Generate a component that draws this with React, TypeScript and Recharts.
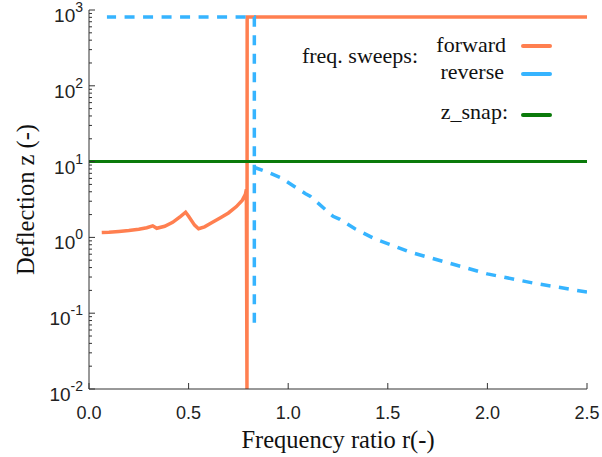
import React from "react";
import { LineChart, Line, XAxis, YAxis } from "recharts";

// forward frequency sweep (r, z)
const forwardR = [0.064, 0.1, 0.15, 0.2, 0.25, 0.29, 0.32, 0.34, 0.38, 0.42, 0.46, 0.485, 0.5, 0.53, 0.55, 0.58, 0.62, 0.66, 0.7, 0.74, 0.77, 0.785, 0.79, 0.793, 0.794, 2.5];
const forwardZ = [1.16, 1.17, 1.2, 1.23, 1.28, 1.34, 1.42, 1.32, 1.4, 1.58, 1.9, 2.15, 1.9, 1.45, 1.3, 1.38, 1.58, 1.82, 2.1, 2.55, 3.1, 3.7, 4.3, 0.01, 810, 810];

// reverse sweep, in sweep order (high r down to low r); null breaks the path at the jump
const reverseR = [2.5, 2.23, 2.0, 1.78, 1.61, 1.51, 1.445, 1.335, 1.26, 1.225, 1.11, 1.085, 1.0, 0.959, 0.9, 0.835, 0.832, 0.83, 0.83, 0.09];
const reverseZ = [0.19, 0.25, 0.33, 0.48, 0.64, 0.81, 0.93, 1.3, 1.73, 1.9, 3.5, 3.8, 5.3, 6.2, 7.2, 8.3, null, 0.075, 810, 810];

const snapR = [0, 2.5];
const snapZ = [10, 10];

const xTicks = [0, 0.5, 1.0, 1.5, 2.0, 2.5];
const yDecades = [0.01, 0.1, 1, 10, 100, 1000];

const toRows = (rs: number[], zs: (number | null)[]) => rs.map((r, i) => ({ r, z: zs[i] }));
const forward = toRows(forwardR, forwardZ);
const reverse = toRows(reverseR, reverseZ);
const snap = toRows(snapR, snapZ);

const yTicks: number[] = [];
yDecades.forEach((d, i) => {
  yTicks.push(d);
  if (i < yDecades.length - 1) {
    for (let k = 2; k <= 9; k++) yTicks.push(d * k);
  }
});

const AXIS = "#333";
const SANS = "'Liberation Sans', Arial, sans-serif";
const SERIF = "'Liberation Serif', 'Times New Roman', serif";

const isMajor = (v: number) => {
  const e = Math.log10(v);
  return Math.abs(e - Math.round(e)) < 1e-6;
};

const LeftTick = (props: any) => {
  const { x, y, payload } = props;
  const v = payload.value;
  const major = isMajor(v);
  return (
    <g>
      <line x1={x} x2={x + (major ? 6 : 3)} y1={y} y2={y} stroke={AXIS} strokeWidth={1} />
      {major && (
        <text x={x - 6} y={y + 12} textAnchor="end" fontFamily={SANS} fontSize={19} fill="#222">
          <tspan>10</tspan>
          <tspan dy={-10} fontSize={14}>{Math.round(Math.log10(v))}</tspan>
        </text>
      )}
    </g>
  );
};

const RightTick = (props: any) => {
  const { x, y, payload } = props;
  const major = isMajor(payload.value);
  return <line x1={x} x2={x - (major ? 6 : 3)} y1={y} y2={y} stroke={AXIS} strokeWidth={1} />;
};

const BottomTick = (props: any) => {
  const { x, y, payload } = props;
  return (
    <g>
      <line x1={x} x2={x} y1={y} y2={y - 6} stroke={AXIS} strokeWidth={1} />
      <text x={x} y={y + 30} textAnchor="middle" fontFamily={SANS} fontSize={18} fill="#222">
        {Number(payload.value).toFixed(1)}
      </text>
    </g>
  );
};

const TopTick = (props: any) => {
  const { x, y } = props;
  return <line x1={x} x2={x} y1={y} y2={y + 6} stroke={AXIS} strokeWidth={1} />;
};

const XTitle = (props: any) => {
  const vb = props.viewBox;
  return (
    <text x={vb.x + vb.width / 2} y={vb.y + 59} textAnchor="middle" fontFamily={SERIF} fontSize={24.5} fill="#111">
      Frequency ratio r(-)
    </text>
  );
};

const YTitle = (props: any) => {
  const vb = props.viewBox;
  const cx = 25;
  const cy = vb.y + vb.height / 2;
  return (
    <text
      x={cx}
      y={cy}
      transform={`rotate(-90 ${cx} ${cy})`}
      textAnchor="middle"
      dominantBaseline="central"
      fontFamily={SERIF}
      fontSize={24.5}
      fill="#111"
    >
      Deflection z (-)
    </text>
  );
};

const LegendBox = () => (
  <svg width={602} height={457} style={{ position: "absolute", left: 0, top: 0, pointerEvents: "none" }}>
    <g fontFamily={SERIF} fontSize={22} fill="#111">
      <text x={418} y={63} textAnchor="end">freq. sweeps:</text>
      <text x={506} y={52} textAnchor="end">forward</text>
      <text x={504} y={79} textAnchor="end">reverse</text>
      <text x={508} y={119} textAnchor="end">z_snap:</text>
    </g>
    <line x1={523} x2={550} y1={46} y2={46} stroke="#ff7f50" strokeWidth={4} strokeLinecap="round" />
    <line x1={523} x2={550} y1={74} y2={74} stroke="#36b4ff" strokeWidth={4} strokeLinecap="round" />
    <line x1={523} x2={550} y1={115} y2={115} stroke="#0a7a0a" strokeWidth={4} strokeLinecap="round" />
  </svg>
);

export default function App() {
  return (
    <div style={{ position: "absolute", left: 0, top: 0, width: 602, height: 457, background: "#fff" }}>
      <LineChart width={602} height={457} margin={{ top: 10, right: 15, left: 0, bottom: 0 }}>
        <XAxis
          dataKey="r"
          type="number"
          domain={[0, 2.5]}
          ticks={xTicks}
          interval={0}
          allowDataOverflow
          height={68}
          stroke={AXIS}
          tickLine={false}
          tickSize={0}
          tickMargin={0}
          tick={<BottomTick />}
          label={<XTitle />}
        />
        <XAxis
          xAxisId="top"
          orientation="top"
          dataKey="r"
          type="number"
          domain={[0, 2.5]}
          ticks={xTicks}
          interval={0}
          allowDataOverflow
          height={0}
          stroke={AXIS}
          tickLine={false}
          tickSize={0}
          tickMargin={0}
          tick={<TopTick />}
        />
        <YAxis
          dataKey="z"
          type="number"
          scale="log"
          domain={[0.01, 1000]}
          ticks={yTicks}
          interval={0}
          allowDataOverflow
          width={89}
          stroke={AXIS}
          tickLine={false}
          tickSize={0}
          tickMargin={0}
          tick={<LeftTick />}
          label={<YTitle />}
        />
        <YAxis
          yAxisId="right"
          orientation="right"
          dataKey="z"
          type="number"
          scale="log"
          domain={[0.01, 1000]}
          ticks={yTicks}
          interval={0}
          allowDataOverflow
          width={0}
          stroke={AXIS}
          tickLine={false}
          tickSize={0}
          tickMargin={0}
          tick={<RightTick />}
        />
        <Line
          data={forward}
          dataKey="z"
          type="linear"
          stroke="#ff7f50"
          strokeWidth={3.5}
          dot={false}
          isAnimationActive={false}
        />
        <Line
          data={reverse}
          dataKey="z"
          type="linear"
          stroke="#36b4ff"
          strokeWidth={3.5}
          strokeDasharray="10 8.5"
          dot={false}
          connectNulls={false}
          isAnimationActive={false}
        />
        <Line
          data={snap}
          dataKey="z"
          type="linear"
          stroke="#0a7a0a"
          strokeWidth={3}
          dot={false}
          isAnimationActive={false}
        />
      </LineChart>
      <LegendBox />
    </div>
  );
}
